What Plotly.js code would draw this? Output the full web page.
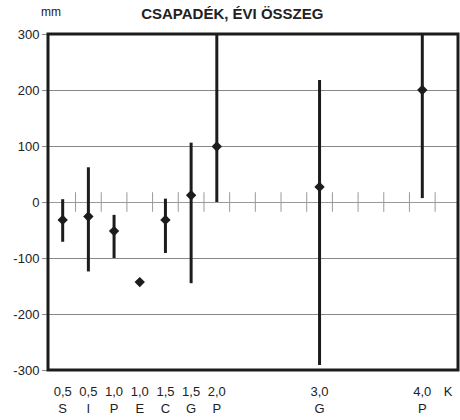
<!DOCTYPE html>
<html>
<head>
<meta charset="utf-8">
<script src="https://cdn.plot.ly/plotly-3.0.1.min.js"></script>
<style>html,body{margin:0;padding:0;background:#fff;}#chart{width:460px;height:420px;}</style>
</head>
<body>
<div id="chart"></div>
<script>
// Category labels (two rows) and their slot positions on the x scale
const rowTop = ['0,5', '0,5', '1,0', '1,0', '1,5', '1,5', '2,0', '3,0', '4,0'];
const rowBottom = ['S', 'I', 'P', 'E', 'C', 'G', 'P', 'G', 'P'];
const slots = [0, 1, 2, 3, 4, 5, 6, 10, 14];
const extraLabel = 'K';
const extraSlot = 15;

// Values (mm)
const means = [-32, -26, -52, -143, -32, 12, 99, 27, 200];
const maxs = [5, 62, -23, -143, 6, 106, 300, 218, 305];
const mins = [-71, -124, -100, -143, -91, -145, 0, -291, 7];

const yTicks = [-300, -200, -100, 0, 100, 200, 300];

const errPlus = means.map((m, i) => maxs[i] - m);
const errMinus = means.map((m, i) => m - mins[i]);

// minor tick marks on the zero line, halfway between slots
const zeroTicks = [];
for (let k = 0; k < 15; k++) zeroTicks.push(k + 0.5);

const dark = '#1c1c1c';
const FONT = 'Liberation Sans, Arial, sans-serif';

const traces = [
  {
    x: zeroTicks,
    y: zeroTicks.map(() => 0),
    type: 'scatter',
    mode: 'markers',
    marker: {symbol: 'line-ns-open', size: 14, color: '#999', line: {color: '#999', width: 1}},
    hoverinfo: 'skip',
    showlegend: false,
    cliponaxis: false
  },
  {
    x: slots,
    y: means,
    type: 'scatter',
    mode: 'markers',
    marker: {symbol: 'diamond', size: 8, color: dark},
    error_y: {
      type: 'data', symmetric: false,
      array: errPlus, arrayminus: errMinus,
      color: dark, thickness: 3, width: 0
    },
    showlegend: false,
    cliponaxis: false
  }
];

const layout = {
  width: 460, height: 420,
  margin: {l: 48, r: 2, t: 34, b: 50},
  paper_bgcolor: '#fff', plot_bgcolor: '#fff',
  font: {family: FONT, size: 13, color: '#222'},
  title: {
    text: 'CSAPADÉK, ÉVI ÖSSZEG',
    font: {family: FONT, size: 15, color: '#222', weight: 'bold'},
    x: 0.505, xref: 'container', xanchor: 'center',
    y: 1 - 13.5 / 420, yref: 'container', yanchor: 'middle'
  },
  xaxis: {
    range: [-0.572, 15.39],
    showgrid: false, zeroline: false, showline: false,
    tickvals: slots.concat([extraSlot]),
    ticktext: rowTop.map((t, i) => t + '<br>' + rowBottom[i]).concat([extraLabel]),
    ticks: '', ticklabelstandoff: 12,
    tickfont: {family: FONT, size: 13, color: '#222'}
  },
  yaxis: {
    range: [-300, 300],
    tickvals: yTicks,
    ticktext: yTicks.map(String),
    showgrid: true, gridcolor: '#888', gridwidth: 1,
    zeroline: true, zerolinecolor: '#999', zerolinewidth: 1,
    ticks: 'outside', ticklen: 5, tickcolor: '#888', tickwidth: 1,
    showline: false,
    tickfont: {family: FONT, size: 13, color: '#222'}
  },
  shapes: [{
    type: 'rect', xref: 'paper', yref: 'paper', x0: 0, x1: 1, y0: 0, y1: 1,
    line: {color: dark, width: 3}, layer: 'above'
  }],
  annotations: [{
    text: 'mm', xref: 'paper', yref: 'paper', x: 3 / 410, y: 1 + (34 - 12) / 336,
    xanchor: 'center', yanchor: 'middle', showarrow: false,
    font: {family: FONT, size: 12, color: '#222'}
  }]
};

Plotly.newPlot('chart', traces, layout, {displayModeBar: false, staticPlot: true});
</script>
</body>
</html>
